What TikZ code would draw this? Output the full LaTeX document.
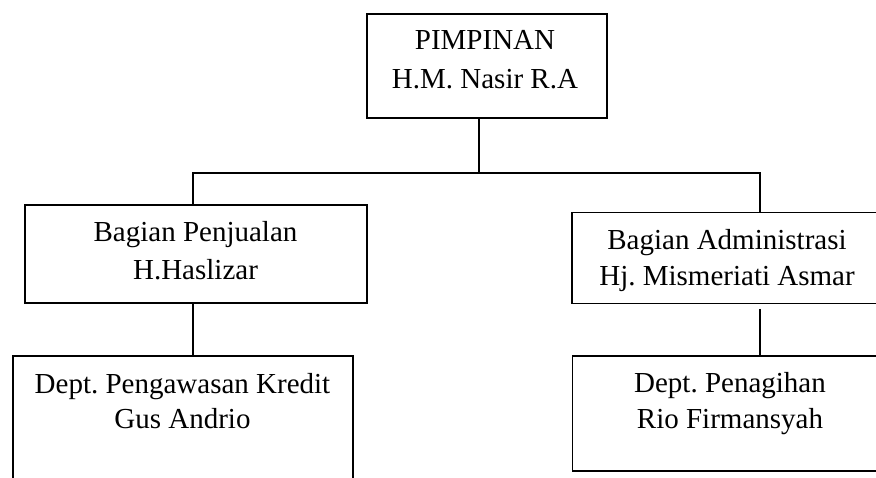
\documentclass[tikz,border=0pt]{standalone}
\usepackage{fontspec}
\setmainfont{Liberation Serif}
\frenchspacing
\begin{document}
\begin{tikzpicture}[x=1pt,y=-1pt,
  box/.style={draw, line width=1.6pt, inner sep=0pt, anchor=north west},
  lbl/.style={font=\fontsize{29}{34}\selectfont, inner sep=0pt, anchor=base},
  conn/.style={line width=1.6pt}]
\useasboundingbox (0,0) rectangle (876,478);
\clip (0,0) rectangle (876,478);
% boxes
\node[box, minimum width=240pt, minimum height=104pt] (top) at (366,13) {};
\node[box, minimum width=342pt, minimum height=98.5pt] (left) at (24,204) {};
\node[box, minimum width=312pt, minimum height=91pt] (right) at (571,211.7) {};
\node[box, minimum width=340pt, minimum height=150pt] (bl) at (12,355) {};
\node[box, minimum width=316pt, minimum height=115pt] (br) at (571.7,355) {};
% texts
\node[lbl] (t1a) at (485,50) {PIMPINAN};
\node[lbl] (t1b) at (485,89) {H.M. Nasir R.A};
\node[lbl] (t2a) at (195.5,241.7) {Bagian Penjualan};
\node[lbl] (t2b) at (195.5,280) {H.Haslizar};
\node[lbl] (t3a) at (727,249.3) {Bagian Administrasi};
\node[lbl] (t3b) at (727,285.5) {Hj. Mismeriati Asmar};
\node[lbl] (t4a) at (182.5,393.3) {Dept. Pengawasan Kredit};
\node[lbl] (t4b) at (182.5,428.3) {Gus Andrio};
\node[lbl] (t5a) at (730,392.7) {Dept. Penagihan};
\node[lbl] (t5b) at (730,428.3) {Rio Firmansyah};
% connectors
\coordinate (spine) at (479,173);
\coordinate (busL) at (192.7,173);
\coordinate (busR) at (760,173);
\coordinate (gapR) at (760,309);
\draw[conn] (top.south -| spine) -- (spine);
\draw[conn] (left.north -| busL) |- (busR) -- (right.north -| busR);
\draw[conn] (left.south -| busL) -- (bl.north -| busL);
\draw[conn] (gapR) -- (br.north -| gapR);
\end{tikzpicture}
\end{document}
